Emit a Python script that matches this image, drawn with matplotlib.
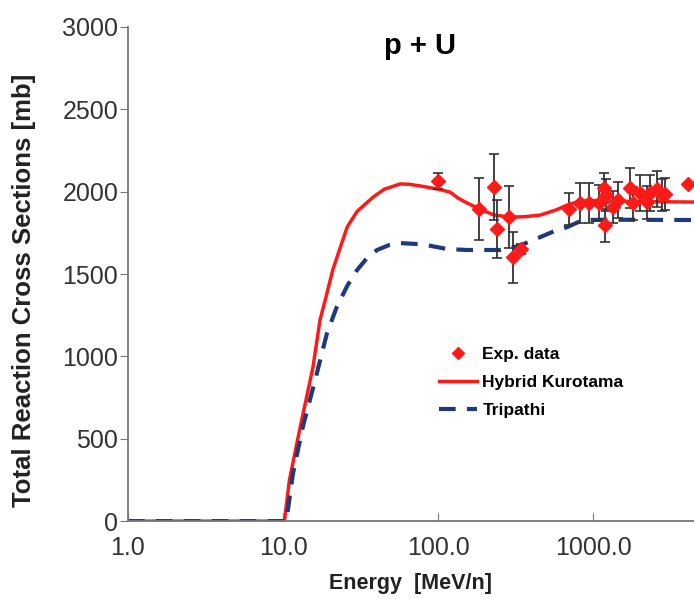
import matplotlib.pyplot as plt
from matplotlib.lines import Line2D

plt.rcParams['font.family'] = ['Liberation Sans', 'DejaVu Sans']

# Hybrid Kurotama
e_kuro = [1, 10, 10.2, 11, 12.9, 15.6, 17.3, 18.7, 21, 25.9, 30, 38.2, 45, 57, 65,
          80, 100, 119, 135, 154, 190, 230, 290, 360, 455, 580, 680, 824, 1000,
          2000, 4500]
cs_kuro = [0, 0, 0, 250, 571, 935, 1220, 1342, 1530, 1785, 1880, 1968, 2015, 2047,
           2045, 2032, 2015, 1998, 1960, 1931, 1890, 1858, 1846, 1848, 1858, 1890,
           1919, 1943, 1945, 1940, 1937]

# Tripathi
e_trip = [1, 10, 10.5, 11.6, 13.4, 16.1, 19.2, 22.2, 26, 30, 35, 40.4, 48, 57, 80,
          114, 154, 251, 330, 410, 560, 679, 800, 916, 1200, 4500]
cs_trip = [0, 0, 0, 291, 571, 856, 1141, 1300, 1430, 1524, 1600, 1646, 1675, 1688,
           1680, 1652, 1646, 1646, 1670, 1706, 1760, 1785, 1815, 1828, 1830, 1828]

# Exp. data
e_exp = [100, 184, 230, 240, 287, 305, 343, 700, 824, 943, 1094, 1178, 1195, 1210,
         1346, 1450, 1733, 1795, 2010, 2230, 2333, 2588, 2787, 2900, 4100]
cs_exp = [2065, 1895, 2028, 1773, 1846, 1603, 1652, 1895, 1931, 1931, 1931, 2022,
          1797, 1980, 1907, 1950, 2022, 1931, 1992, 1937, 1992, 2016, 1980, 1986, 2047]
err_exp = [50, 190, 200, 175, 190, 155, 30, 100, 120, 120, 110, 90, 100, 100,
           100, 110, 120, 100, 110, 100, 110, 110, 100, 100, 0]

fig = plt.figure(figsize=(6.94, 5.99), dpi=100)
ax = fig.add_axes([0.1844, 0.130, 0.8156, 0.825])

ax.plot(e_kuro, cs_kuro, color='#ff1a1a', lw=2.5, label='Hybrid Kurotama')
ax.plot(e_trip, cs_trip, color='#1f3a7a', lw=3, ls=(0, (4, 2.7)), label='Tripathi')
ax.errorbar(e_exp, cs_exp, yerr=err_exp, fmt='D', color='#ff1a1a', ms=7,
            ecolor='#333333', elinewidth=1.3, capsize=3.5, capthick=1.2,
            label='Exp. data', zorder=5)

ax.set_xscale('log')
ax.set_xlim(1, 10 ** 3.65)
ax.set_ylim(0, 3000)
ax.set_yticks([0, 500, 1000, 1500, 2000, 2500, 3000])
ax.set_xticks([1, 10, 100, 1000])
ax.set_xticklabels(['1.0', '10.0', '100.0', '1000.0'])
ax.minorticks_off()

for s in ['top', 'right']:
    ax.spines[s].set_visible(False)
ax.spines['left'].set_color('#777777')
ax.spines['bottom'].set_color('#777777')
ax.spines['left'].set_linewidth(1.3)
ax.spines['bottom'].set_linewidth(1.3)
ax.tick_params(axis='y', direction='out', length=6, color='#777777',
               labelsize=18, labelcolor='#333333', pad=1)
ax.tick_params(axis='x', direction='in', length=6, color='#777777',
               labelsize=18, labelcolor='#333333', pad=11)

ax.set_xlabel('Energy  [MeV/n]', fontsize=15.5, fontweight='bold', color='#222222', labelpad=9)
ax.set_ylabel('Total Reaction Cross Sections [mb]', fontsize=18.5, fontweight='bold',
              color='#222222')
ax.yaxis.set_label_coords(-0.163, 0.468)

fig.text(0.605, 0.923, 'p + U', fontsize=21, fontweight='bold', ha='center', va='center')

handles = [
    Line2D([], [], marker='D', color='#ff1a1a', ls='none', ms=6),
    Line2D([], [], color='#ff1a1a', lw=2.5),
    Line2D([], [], color='#1f3a7a', lw=3, ls=(0, (4, 2.7))),
]
ax.legend(handles, ['Exp. data', 'Hybrid Kurotama', 'Tripathi'],
          loc='upper left', bbox_to_anchor=(0.61, 0.447), bbox_transform=fig.transFigure,
          frameon=False, prop={'weight': 'bold', 'size': 12.5},
          handlelength=2.2, handletextpad=0.3, labelspacing=0.74)

fig.savefig('out.png', dpi=100)
